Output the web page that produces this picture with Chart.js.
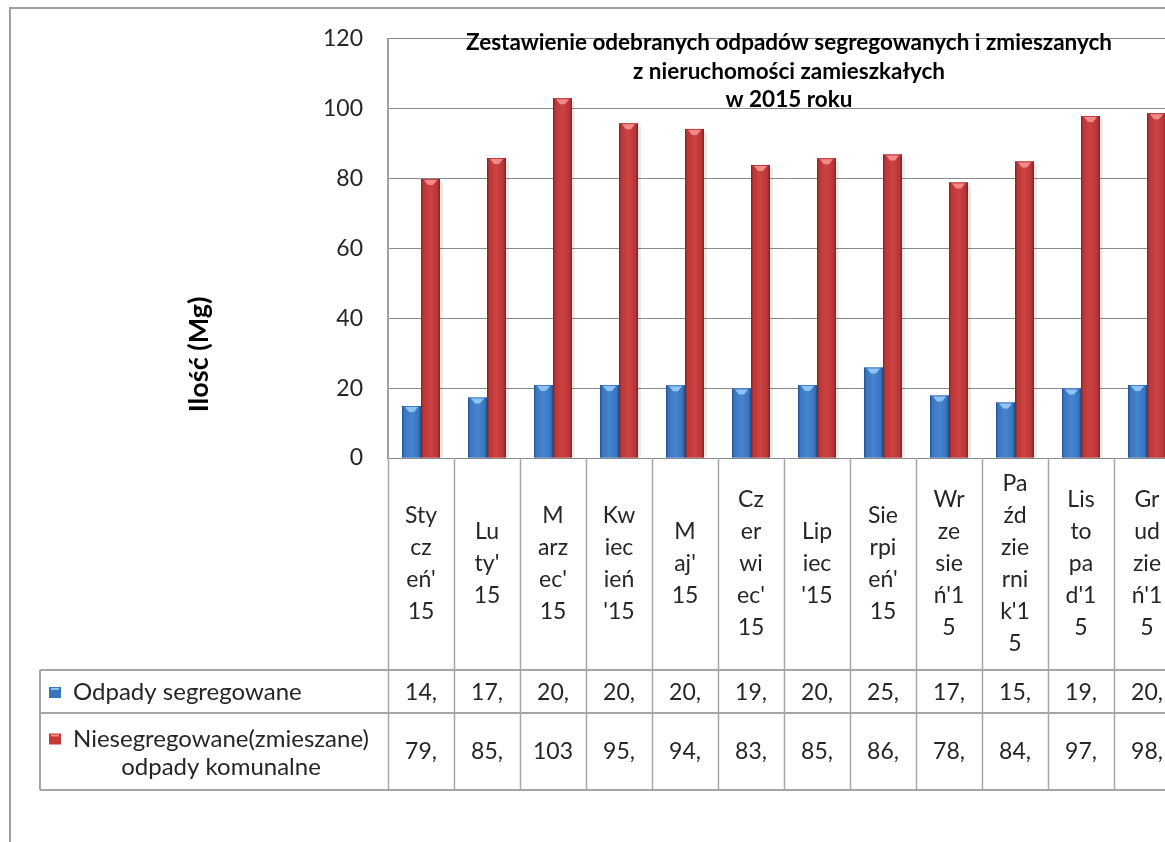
<!DOCTYPE html>
<html lang="pl">
<head>
<meta charset="utf-8">
<title>Zestawienie odpadów 2015</title>
<script src="https://cdn.jsdelivr.net/npm/chart.js@4.4.1/dist/chart.umd.min.js"></script>
<style>
  html, body { margin: 0; padding: 0; background: #fff; overflow: hidden; }
  #wrap { width: 1165px; height: 842px; overflow: hidden; }
</style>
</head>
<body>
<div id="wrap"><canvas id="odpadyChart" width="1200" height="842"></canvas></div>
<script>
// dane (Mg)
var miesiace = ["Styczeń'15", "Luty'15", "Marzec'15", "Kwiecień'15", "Maj'15", "Czerwiec'15",
                "Lipiec'15", "Sierpień'15", "Wrzesień'15", "Październik'15", "Listopad'15", "Grudzień'15"];
// tak jak Excel połamał podpisy w wąskich kolumnach
var miesiaceZawiniete = [
  ['Sty', 'cz', "eń'", '15'],
  ['Lu', "ty'", '15'],
  ['M', 'arz', "ec'", '15'],
  ['Kw', 'iec', 'ień', "'15"],
  ['M', "aj'", '15'],
  ['Cz', 'er', 'wi', "ec'", '15'],
  ['Lip', 'iec', "'15"],
  ['Sie', 'rpi', "eń'", '15'],
  ['Wr', 'ze', 'sie', "ń'1", '5'],
  ['Pa', 'źd', 'zie', 'rni', "k'1", '5'],
  ['Lis', 'to', 'pa', "d'1", '5'],
  ['Gr', 'ud', 'zie', "ń'1", '5']
];
var segregowane    = [14.9, 17.3, 20.9, 20.9, 20.8, 19.9, 20.9, 25.9, 17.9, 15.9, 19.9, 20.9];
var niesegregowane = [79.9, 85.9, 103.0, 95.8, 94.2, 83.9, 85.8, 86.9, 78.9, 84.9, 97.9, 98.7];
var nazwySerii = [['Odpady segregowane'], ['Niesegregowane(zmieszane)', 'odpady komunalne']];
var tytul = ['Zestawienie odebranych odpadów segregowanych i zmieszanych',
             'z nieruchomości zamieszkałych', 'w 2015 roku'];
var tytulOsiY = 'Ilość (Mg)';

var FONT = 'Lato, "Open Sans", sans-serif';
var paleta = [
  { glowny: '#3c78c3', stops: ['#244f88', '#3a76c2', '#4584d0', '#3a74bd', '#214a80'], szczyt: '#8ec3f2', klucz: '#3a73bb' },
  { glowny: '#c03a3a', stops: ['#7e2222', '#bd3636', '#cc4343', '#b73434', '#7a2020'], szczyt: '#f28a8a', klucz: '#c23737' }
];

// Excel ucina tekst w wąskiej komórce: "14,9" -> "14,"
function tekstKomorki(v) {
  return v >= 100 ? String(Math.round(v)) : Math.floor(v) + ',';
}

var tabela = {
  id: 'tabela',
  afterDatasetsDraw: function(chart) {
    var ctx = chart.ctx;
    chart.data.datasets.forEach(function(ds, di) {
      var kol = paleta[di];
      chart.getDatasetMeta(di).data.forEach(function(bar) {
        var l = bar.x - bar.width / 2, r = bar.x + bar.width / 2, t = bar.y, b = bar.base;
        ctx.save();
        ctx.fillStyle = 'rgba(0,0,0,0.08)';
        ctx.fillRect(r, t + 3, 3, b - t - 3);
        var g = ctx.createLinearGradient(l, 0, r, 0);
        g.addColorStop(0, kol.stops[0]);
        g.addColorStop(0.12, kol.stops[1]);
        g.addColorStop(0.5, kol.stops[2]);
        g.addColorStop(0.88, kol.stops[3]);
        g.addColorStop(1, kol.stops[4]);
        ctx.fillStyle = g;
        ctx.fillRect(l, t, r - l, b - t);
        ctx.fillStyle = kol.szczyt;
        ctx.beginPath();
        ctx.moveTo(l + 3, t + 1);
        ctx.lineTo(r - 3, t + 1);
        ctx.lineTo(r - 7, t + 6);
        ctx.lineTo(l + 7, t + 6);
        ctx.closePath();
        ctx.fill();
        ctx.restore();
      });
    });
  },
  afterDraw: function(chart) {
    var ctx = chart.ctx, sx = chart.scales.x, area = chart.chartArea;
    var krok = sx.getPixelForValue(1) - sx.getPixelForValue(0);
    var naglowekDol = area.bottom + 212, wiersz1 = naglowekDol + 43, wiersz2 = wiersz1 + 77;
    var lewaTabeli = 40;
    ctx.save();

    // ramka całego wykresu
    ctx.strokeStyle = '#a0a0a0';
    ctx.lineWidth = 2;
    ctx.strokeRect(10, 8, 1400, 1000);

    // tytuł
    ctx.fillStyle = '#000';
    ctx.font = 'bold 22.5px ' + FONT;
    ctx.textAlign = 'center';
    ctx.textBaseline = 'middle';
    tytul.forEach(function(t, i) { ctx.fillText(t, 789, 43 + i * 28.5); });

    // tytuł osi Y
    ctx.save();
    ctx.translate(199, (area.top + naglowekDol) / 2);
    ctx.rotate(-Math.PI / 2);
    ctx.font = 'bold 27px ' + FONT;
    ctx.fillText(tytulOsiY, 0, 0);
    ctx.restore();

    // linie tabeli
    ctx.strokeStyle = '#a6a6a6';
    ctx.lineWidth = 2;
    [naglowekDol, wiersz1, wiersz2].forEach(function(y) {
      ctx.beginPath(); ctx.moveTo(lewaTabeli, y); ctx.lineTo(1300, y); ctx.stroke();
    });
    ctx.beginPath(); ctx.moveTo(lewaTabeli, naglowekDol); ctx.lineTo(lewaTabeli, wiersz2); ctx.stroke();
    ctx.lineWidth = 1.5;
    for (var i = 0; i <= miesiace.length; i++) {
      var xb = Math.round(sx.getPixelForValue(0) - krok / 2 + i * krok) + 0.5;
      ctx.beginPath(); ctx.moveTo(xb, area.bottom); ctx.lineTo(xb, wiersz2); ctx.stroke();
    }

    // podpisy miesięcy
    ctx.fillStyle = '#262626';
    ctx.font = '23px ' + FONT;
    var srodek = (area.bottom + naglowekDol) / 2;
    miesiaceZawiniete.forEach(function(linie, i) {
      var xc = sx.getPixelForValue(i);
      var y0 = srodek - (linie.length - 1) * 32 / 2;
      linie.forEach(function(s, k) { ctx.fillText(s, xc, y0 + k * 32); });
    });

    // wartości
    var yWier = [(naglowekDol + wiersz1) / 2 + 1, (wiersz1 + wiersz2) / 2];
    [segregowane, niesegregowane].forEach(function(arr, di) {
      arr.forEach(function(v, i) { ctx.fillText(tekstKomorki(v), sx.getPixelForValue(i), yWier[di]); });
    });

    // legenda w tabeli
    ctx.font = '24px ' + FONT;
    var kluczY = [yWier[0], wiersz1 + 26];
    nazwySerii.forEach(function(linie, di) {
      var kol = paleta[di];
      var ky = kluczY[di];
      ctx.fillStyle = kol.klucz;
      ctx.fillRect(49, ky - 5.5, 12, 11);
      ctx.fillStyle = kol.szczyt;
      ctx.fillRect(51, ky - 4.5, 8, 2);
      ctx.fillStyle = '#262626';
      ctx.textAlign = 'left';
      ctx.fillText(linie[0], 73, ky);
      if (linie[1]) {
        ctx.textAlign = 'center';
        var w = ctx.measureText(linie[0]).width;
        ctx.fillText(linie[1], 73 + w / 2, ky + 28);
      }
    });
    ctx.restore();
  }
};

var ctx = document.getElementById('odpadyChart').getContext('2d');
var chart = new Chart(ctx, {
  type: 'bar',
  data: {
    labels: miesiace,
    datasets: [{
      label: nazwySerii[0].join(' '),
      data: segregowane,
      backgroundColor: paleta[0].glowny
    }, {
      label: nazwySerii[1].join(' '),
      data: niesegregowane,
      backgroundColor: paleta[1].glowny
    }]
  },
  options: {
    responsive: false,
    animation: false,
    devicePixelRatio: 1,
    categoryPercentage: 0.576,
    barPercentage: 1.0,
    layout: { padding: { left: 10, top: 32, right: 20, bottom: 52 } },
    plugins: {
      legend: { display: false },
      tooltip: { enabled: false }
    },
    scales: {
      x: {
        grid: { display: false, drawTicks: false },
        border: { display: false },
        ticks: { display: false },
        afterFit: function(scale) { scale.height = 332; }
      },
      y: {
        min: 0,
        max: 120,
        ticks: { stepSize: 20, color: '#262626', font: { family: FONT, size: 23 }, padding: 25 },
        grid: { color: '#8a8a8a', lineWidth: 1, drawTicks: false },
        border: { color: '#a0a0a0', width: 2 },
        afterFit: function(scale) { scale.width = 378; }
      }
    }
  },
  plugins: [tabela]
});
</script>
</body>
</html>
